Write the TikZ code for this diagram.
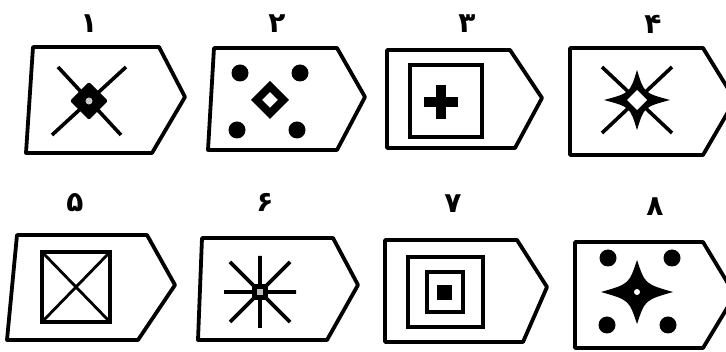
\documentclass[tikz,border=0pt]{standalone}
\usepackage{fontspec}
\newfontfamily\digitfont[Script=Arabic]{DejaVu Sans}
\begin{document}
\begin{tikzpicture}[x=1pt,y=-1pt,
  tagline/.style={line width=3.8pt,line join=round},
  signline/.style={line width=3.6pt},
  numlabel/.style={font=\digitfont\bfseries\fontsize{28}{28}\selectfont,inner sep=0pt}]
  \useasboundingbox (0,0) rectangle (726,352);
  % number labels
  \node[numlabel] (lab1) at (89,24)  {۱};
  \node[numlabel] (lab2) at (277,24) {۲};
  \node[numlabel] (lab3) at (467,24) {۳};
  \node[numlabel] (lab4) at (653,24) {۴};
  \node[numlabel] (lab5) at (75,203) {۵};
  \node[numlabel] (lab6) at (265,202) {۶};
  \node[numlabel] (lab7) at (453,204) {۷};
  \node[numlabel] (lab8) at (655,207) {۸};
  % tag outlines
  \draw[tagline] (33,47) -- (159,47) -- (185,97) -- (152,153) -- (26,153) -- cycle;
  \draw[tagline] (214,48) -- (337,48) -- (365,97) -- (337,150) -- (208,150) -- cycle;
  \draw[tagline] (387,50) -- (510,50) -- (542,98) -- (515,148) -- (387,148) -- cycle;
  \draw[tagline] (570,48) -- (703,48) -- (735,100) -- (703,155) -- (570,155) -- cycle;
  \draw[tagline] (17,235) -- (147,235) -- (175,285) -- (138,340) -- (7,340) -- cycle;
  \draw[tagline] (202,238) -- (333,238) -- (358,285) -- (327,340) -- (198,340) -- cycle;
  \draw[tagline] (385,240) -- (517,240) -- (547,287) -- (523,342) -- (385,342) -- cycle;
  \draw[tagline] (575,242) -- (703,242) -- (735,295) -- (703,348) -- (575,348) -- cycle;
  % 1: cross with diamond
  \draw[signline] (58,67) -- (121,135) (126,67) -- (52,135);
  \fill[rounded corners=2pt] (89,82) -- (108,101) -- (89,120) -- (70,101) -- cycle;
  \fill[gray!40] (89,101) circle (3.5);
  % 2: dots and hollow diamond
  \foreach \p in {(240,73),(300,73),(237,130),(297,130)}
    \fill \p circle (8.5);
  \fill[even odd rule] (270,81) -- (289,100) -- (270,119) -- (251,100) -- cycle
    (270,92) -- (278,100) -- (270,108) -- (262,100) -- cycle;
  % 3: square with plus
  \draw[signline] (410,65) rectangle (482,137);
  \draw[line width=10pt] (424,102) -- (458,102) (441,85) -- (441,119);
  % 4: cross behind a star
  \draw[signline] (602,67) -- (672,133) (672,67) -- (602,133);
  \fill (670,100) .. controls (644,93) .. (637,70) .. controls (630,93) .. (604,100)
    .. controls (630,107) .. (637,130) .. controls (644,107) .. cycle;
  \fill[white] (637,90) -- (647,100) -- (637,110) -- (627,100) -- cycle;
  % 5: square with diagonals
  \draw[signline] (42,252) rectangle (110,322);
  \draw[line width=2.8pt] (42,252) -- (110,322) (110,252) -- (42,322);
  % 6: burst
  \draw[signline] (224,292) -- (296,292) (260,256) -- (260,328)
    (230,262) -- (290,322) (290,262) -- (230,322);
  \fill (252,284) rectangle (268,300);
  \fill[gray!50] (257,289) rectangle (263,295);
  % 7: nested squares
  \draw[signline] (408,257) rectangle (483,327);
  \draw[signline] (427,272) rectangle (463,312);
  \fill (437,285) rectangle (452,300);
  % 8: dots and star
  \foreach \p in {(608,258),(672,258),(607,325),(668,325)}
    \fill \p circle (8.5);
  \fill (673,292) .. controls (645,284) .. (637,260) .. controls (629,284) .. (601,292)
    .. controls (629,300) .. (637,324) .. controls (645,300) .. cycle;
  \fill[white] (637,292) circle (3);
\end{tikzpicture}
\end{document}
